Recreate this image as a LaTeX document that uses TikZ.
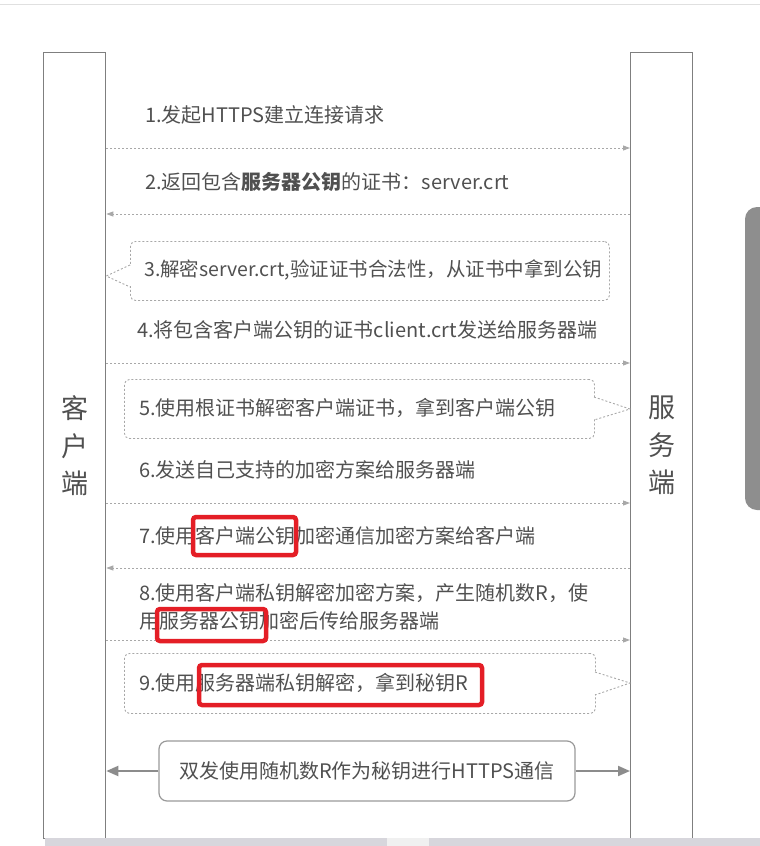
\documentclass[tikz,border=0pt]{standalone}
\usepackage{fontspec}
\setmainfont{Noto Sans CJK SC}
\usetikzlibrary{arrows.meta}
\definecolor{txtgray}{HTML}{505050}
\definecolor{linegray}{HTML}{7F7F7F}
\definecolor{dashgray}{HTML}{A8A8A8}
\definecolor{hlred}{HTML}{E41E26}
\definecolor{panelgray}{HTML}{8E8E8E}
\definecolor{stripgray}{HTML}{D7D6DC}
\tikzset{
  lifeline/.style={draw=linegray, line width=1.3pt, minimum width=62, minimum height=786, anchor=north west, inner sep=0pt, align=center, text=txtgray, font=\fontsize{27}{37.5}\selectfont},
  msgtext/.style={anchor=west, inner sep=0pt, text=txtgray, font=\fontsize{20}{28}\selectfont, align=left},
  msgline/.style={draw=dashgray, line width=0.9pt, dash pattern=on 2pt off 2pt, -{Triangle[length=7pt,width=5pt]}},
  notebox/.style={draw=dashgray, line width=0.9pt, dash pattern=on 2pt off 2pt, rounded corners=5pt, anchor=north west, inner sep=0pt},
  notch/.style={draw=dashgray, line width=0.9pt, dash pattern=on 2pt off 2pt},
  redbox/.style={draw=hlred, line width=4.5pt, rounded corners=3pt},
  finalbox/.style={draw=linegray!80, line width=1.2pt, rounded corners=8pt, minimum width=416, minimum height=60, inner sep=0pt, text=txtgray, font=\fontsize{20}{24}\selectfont},
  bigarrow/.style={draw=linegray!90, line width=2pt, -{Triangle[length=12pt,width=10pt]}}
}
\begin{document}
\begin{tikzpicture}[x=1pt,y=-1pt]
\useasboundingbox (0,0) rectangle (760,846);
% screenshot frame artefacts
\draw[black!12, line width=1pt] (0,4) -- (760,4);
\fill[panelgray, rounded corners=12pt] (745,207) rectangle (790,510);
% lifelines
\node[lifeline] (cl) at (43,52) {客\\户\\端};
\node[lifeline] (sv) at (630,52) {服\\务\\端};
% message 1
\node[msgtext] (t1) at (145,115) {1.发起HTTPS建立连接请求};
\coordinate (m1) at (0,148);
\draw[msgline] (cl.east |- m1) -- (sv.west |- m1);
% message 2
\node[msgtext] (t2) at (145,182) {2.返回包含\textbf{服务器公钥}的证书：server.crt};
\coordinate (m2) at (0,214);
\draw[msgline] (sv.west |- m2) -- (cl.east |- m2);
% note 3
\node[notebox, minimum width=479, minimum height=59] (n3) at (130,241) {};
\fill[white] (128,266) rectangle (132,286);
\draw[notch] (130,265) -- (cl.east |- 0,276) -- (130,287);
\node[msgtext, font=\fontsize{19.5}{28}\selectfont] (t3) at (144,270) {3.解密server.crt,验证证书合法性，从证书中拿到公钥};
% message 4
\node[msgtext] (t4) at (137,330) {4.将包含客户端公钥的证书client.crt发送给服务器端};
\coordinate (m4) at (0,363);
\draw[msgline] (cl.east |- m4) -- (sv.west |- m4);
% note 5
\node[notebox, minimum width=470, minimum height=59] (n5) at (124,379) {};
\fill[white] (592,398) rectangle (596,419);
\draw[notch] (594,397) -- (sv.west |- 0,409) -- (594,420);
\node[msgtext] (t5) at (139,408) {5.使用根证书解密客户端证书，拿到客户端公钥};
% message 6
\node[msgtext] (t6) at (139,470) {6.发送自己支持的加密方案给服务器端};
\coordinate (m6) at (0,503);
\draw[msgline] (cl.east |- m6) -- (sv.west |- m6);
% message 7
\node[msgtext] (t7) at (139,536) {7.使用客户端公钥加密通信加密方案给客户端};
\coordinate (m7) at (0,568);
\draw[msgline] (sv.west |- m7) -- (cl.east |- m7);
% message 8
\node[msgtext, anchor=north west] (t8) at (139,583) {8.使用客户端私钥解密加密方案，产生随机数R，使\\用服务器公钥加密后传给服务器端};
\coordinate (m8) at (0,640);
\draw[msgline] (cl.east |- m8) -- (sv.west |- m8);
% note 9
\node[notebox, minimum width=471, minimum height=60] (n9) at (124,653) {};
\fill[white] (593,673) rectangle (597,694);
\draw[notch] (595,672) -- (sv.west |- 0,683) -- (595,695);
\node[msgtext] (t9) at (139,683) {9.使用服务器端私钥解密，拿到秘钥R};
% final
\node[finalbox] (fb) at (367,771) {双发使用随机数R作为秘钥进行HTTPS通信};
\draw[bigarrow] (fb.west) -- (cl.east |- fb.west);
\draw[bigarrow] (fb.east) -- (sv.west |- fb.east);
% red highlights
\draw[redbox] (193,517) rectangle (296,555);
\draw[redbox] (157,609) rectangle (266,641);
\draw[redbox] (199,665) rectangle (482,705);
% bottom strip
\fill[stripgray] (45,838) rectangle (760,846);
\fill[black!6] (387,838) rectangle (429,846);
\end{tikzpicture}
\end{document}
